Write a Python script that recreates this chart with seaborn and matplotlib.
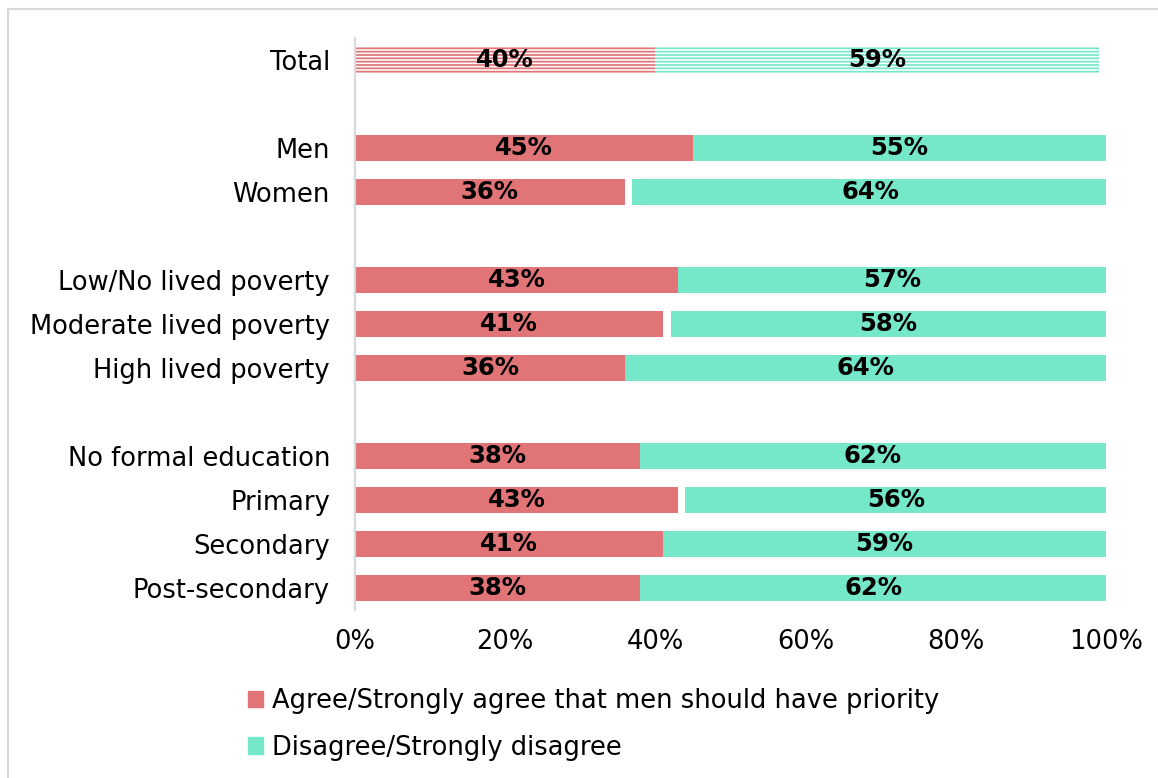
import matplotlib
matplotlib.use("Agg")
import matplotlib.pyplot as plt
import matplotlib.patches as mpatches
import seaborn as sns
import pandas as pd

# ---- data ----
categories = ["Total", "Men", "Women", "Low/No lived poverty", "Moderate lived poverty",
              "High lived poverty", "No formal education", "Primary", "Secondary", "Post-secondary"]
agree = [39.9, 45.0, 35.9, 43.0, 41.0, 36.0, 37.9, 43.0, 41.0, 38.0]
gap = [0.0, 0.0, 1.0, 0.0, 1.1, 0.0, 0.0, 1.0, 0.0, 0.0]
disagree = [59.2, 55.0, 63.4, 57.0, 57.9, 64.0, 62.1, 56.0, 59.0, 62.0]
agree_labels = ["40%", "45%", "36%", "43%", "41%", "36%", "38%", "43%", "41%", "38%"]
disagree_labels = ["59%", "55%", "64%", "57%", "58%", "64%", "62%", "56%", "59%", "62%"]
order = ["Total", " ", "Men", "Women", "  ", "Low/No lived poverty", "Moderate lived poverty",
         "High lived poverty", "   ", "No formal education", "Primary", "Secondary", "Post-secondary"]
xticks = [0, 20, 40, 60, 80, 100]
xtick_labels = ["0%", "20%", "40%", "60%", "80%", "100%"]
series_names = ["Agree/Strongly agree that men should have priority", "Disagree/Strongly disagree"]

RED = "#E07476"
GREEN = "#76E8CA"
FONT = "DejaVu Sans"
FS = 18.5

df = pd.DataFrame({"category": categories, "agree": agree, "gap": gap, "disagree": disagree})
df["start_dis"] = df["agree"] + df["gap"]
df["end"] = df["start_dis"] + df["disagree"]

sns.set_style("white")
plt.rcParams["font.family"] = [FONT]
plt.rcParams["hatch.linewidth"] = 1.25
plt.rcParams["text.color"] = "black"
plt.rcParams["xtick.color"] = "black"
plt.rcParams["ytick.color"] = "black"

fig = plt.figure(figsize=(11.58, 7.78), dpi=100)
ax = fig.add_axes([355 / 1158, 1 - 610 / 778, (1106 - 355) / 1158, (610 - 38) / 778])

BW = 0.57

def draw(col, color):
    n0 = len(ax.patches)
    sns.barplot(data=df, x=col, y="category", order=order, orient="h", color=color,
                width=BW, saturation=1, errorbar=None, ax=ax, linewidth=0)
    return ax.patches[n0:]

green_bars = draw("end", GREEN)
white_bars = draw("start_dis", "white")
red_bars = draw("agree", RED)

total_pos = order.index("Total")
for bars, col in ((green_bars, GREEN), (red_bars, RED)):
    for p in bars:
        yc = p.get_y() + p.get_height() / 2
        if abs(yc - total_pos) < 0.1:
            p.set_facecolor("white")
            p.set_edgecolor(col)
            p.set_hatch("-----")
            p.set_linewidth(0)

# value labels
for i, cat in enumerate(categories):
    y = order.index(cat)
    ax.text(df.loc[i, "agree"] / 2, y, agree_labels[i], ha="center", va="center",
            fontsize=FS - 1, fontweight="bold", color="black")
    ax.text((df.loc[i, "start_dis"] + df.loc[i, "end"]) / 2, y, disagree_labels[i],
            ha="center", va="center", fontsize=FS - 1, fontweight="bold", color="black")

ax.set_xlim(0, 100)
ax.set_ylim(len(order) - 0.5, -0.5)
ax.set_xticks(xticks)
ax.set_xticklabels(xtick_labels, fontsize=FS)
ax.tick_params(axis="x", length=0, pad=14)
ax.tick_params(axis="y", length=0, pad=18, labelsize=FS)
ax.set_xlabel("")
ax.set_ylabel("")
for s in ["top", "right", "bottom"]:
    ax.spines[s].set_visible(False)
ax.spines["left"].set_color("#D9D9D9")
ax.spines["left"].set_linewidth(1.6)

handles = [mpatches.Patch(color=RED, label=series_names[0]),
           mpatches.Patch(color=GREEN, label=series_names[1])]
fig.legend(handles=handles, loc="upper left", bbox_to_anchor=(248 / 1158, 1 - 688 / 778),
           frameon=False, fontsize=FS, handlelength=0.6, handleheight=0.6,
           handletextpad=0.35, labelspacing=0.8, borderaxespad=0, borderpad=0)

# outer border
fig.patches.append(mpatches.Rectangle((8 / 1158, -0.05), 1.2, 1 - 9 / 778 + 0.05,
                                      transform=fig.transFigure, fill=False,
                                      edgecolor="#D9D9D9", linewidth=1.6))

fig.savefig("out.png", dpi=100)
